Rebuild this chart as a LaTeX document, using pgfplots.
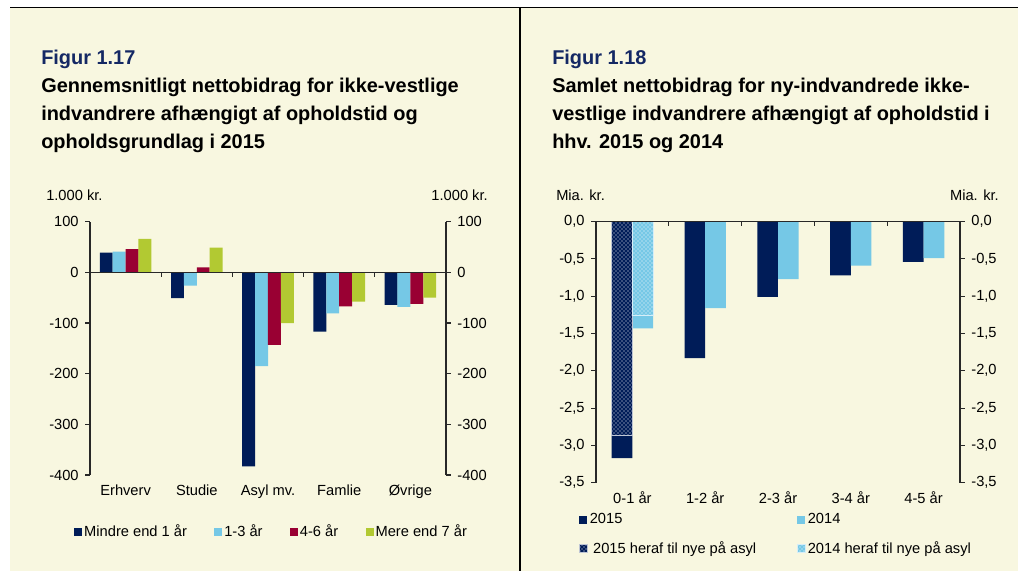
\documentclass[border=0pt]{standalone}
\usepackage{pgfplots}
\pgfplotsset{compat=1.18}
\usetikzlibrary{patterns}
\usepackage{fontspec}
\setmainfont{Liberation Sans}
\definecolor{bg}{RGB}{248,247,224}
\definecolor{navy}{RGB}{0,28,88}
\definecolor{lblue}{RGB}{117,200,230}
\definecolor{wine}{RGB}{153,0,51}
\definecolor{lime}{RGB}{178,201,50}
\definecolor{figblue}{RGB}{20,40,100}
\definecolor{axc}{RGB}{40,40,40}
\newcommand\tfont{\fontsize{14.95pt}{17pt}\selectfont\bfseries}
\newcommand\lfont{\fontsize{11pt}{13pt}\selectfont}
\tikzset{btick/.style={axc, line width=0.8pt}}
\pgfplotsset{
  sq legend/.style={legend image code/.code={\fill[##1] (0pt,-3pt) rectangle (6pt,3pt);}},
  panel/.style={
    scale only axis, anchor=south west, clip=false,
    xmin=-0.5, xmax=4.5,
    separate axis lines,
    x axis line style={draw=none},
    y axis line style={draw=axc, line width=0.8pt},
    xtick={0,...,4}, x tick style={draw=none},
    y tick style={axc, line width=0.8pt},
    tick align=outside, major tick length=3.5pt,
    tick label style={font=\lfont},
    yticklabel style={xshift=-1.5pt},
    ytick pos=both,
    legend cell align=left,
  },
  rpanel/.style={
    scale only axis, anchor=south west,
    xmin=-0.5, xmax=4.5, hide x axis,
    y axis line style={draw=none}, y tick style={draw=none},
    yticklabel pos=right, tick label style={font=\lfont},
    yticklabel style={anchor=west, xshift=5pt},
  },
}
\begin{document}
\begin{tikzpicture}
\begin{scope}[x=0.75pt,y=-0.75pt]
\useasboundingbox (0,0) rectangle (1018,571);
\fill[white] (0,0) rectangle (1018,571);
\fill[bg] (10,8) rectangle (1018,571);
\draw[black, line width=1.1pt] (10,7.5) -- (1018,7.5);
\draw[black, line width=1pt] (520,7.5) -- (520,571);
\node[anchor=base west, inner sep=0, text=figblue, font=\tfont] at (41,64) {Figur 1.17};
\node[anchor=base west, inner sep=0, font=\tfont] at (41,92.7) {Gennemsnitligt nettobidrag for ikke-vestlige};
\node[anchor=base west, inner sep=0, font=\tfont] at (41,120.4) {indvandrere afhængigt af opholdstid og};
\node[anchor=base west, inner sep=0, font=\tfont] at (41,148) {opholdsgrundlag i 2015};
\node[anchor=base west, inner sep=0, text=figblue, font=\tfont] at (552,64) {Figur 1.18};
\node[anchor=base west, inner sep=0, font=\tfont] at (552,92.7) {Samlet nettobidrag for ny-indvandrede ikke-};
\node[anchor=base west, inner sep=0, font=\tfont] at (552,120.4) {vestlige indvandrere afhængigt af opholdstid i};
\node[anchor=base west, inner sep=0, font=\tfont] at (552,148) {hhv. 2015 og 2014};
\node[anchor=base west, inner sep=0, font=\lfont] at (46,200) {1.000 kr.};
\node[anchor=base east, inner sep=0, font=\lfont] at (488,200) {1.000 kr.};
\node[anchor=base west, inner sep=0, font=\lfont] at (556,200) {Mia. kr.};
\node[anchor=base east, inner sep=0, font=\lfont] at (999,200) {Mia. kr.};
\end{scope}

% ---------- left panel ----------
\begin{axis}[panel,
  at={(67.5pt,-356.25pt)}, width=267pt, height=190pt,
  ymin=-400, ymax=100,
  ytick={-400,-300,-200,-100,0,100},
  yticklabels={-400,-300,-200,-100,0,100},
  xticklabels={Erhverv,Studie,Asyl mv.,Famlie,Øvrige},
  bar width=9.7pt,
  legend columns=4,
  legend style={at={(axis description cs:-0.045,-0.224)}, anchor=west,
    draw=none, fill=none, inner sep=0pt, font=\lfont,
    nodes={inner sep=1.5pt},
    /tikz/every even column/.append style={column sep=19pt}},
]
\addplot[ybar, fill=navy, draw=none, bar shift=-14.5pt, sq legend] coordinates {(0,39) (1,-51) (2,-383) (3,-117) (4,-64)};
\addplot[ybar, fill=lblue, draw=none, bar shift=-4.84pt, sq legend] coordinates {(0,41) (1,-26) (2,-185) (3,-81) (4,-68)};
\addplot[ybar, fill=wine, draw=none, bar shift=4.84pt, sq legend] coordinates {(0,46) (1,10) (2,-143) (3,-67) (4,-62)};
\addplot[ybar, fill=lime, draw=none, bar shift=14.5pt, sq legend] coordinates {(0,66) (1,49) (2,-100) (3,-58) (4,-50)};
\legend{Mindre end 1 år,1-3 år,4-6 år,Mere end 7 år}
\draw[btick] (axis cs:-0.5,0) -- (axis cs:4.5,0);
\draw[btick] (axis cs:0.5,0) -- ([yshift=-3.5pt]axis cs:0.5,0);
\draw[btick] (axis cs:1.5,0) -- ([yshift=-3.5pt]axis cs:1.5,0);
\draw[btick] (axis cs:2.5,0) -- ([yshift=-3.5pt]axis cs:2.5,0);
\draw[btick] (axis cs:3.5,0) -- ([yshift=-3.5pt]axis cs:3.5,0);
\end{axis}
\begin{axis}[rpanel,
  at={(67.5pt,-356.25pt)}, width=267pt, height=190pt,
  ymin=-400, ymax=100,
  ytick={-400,-300,-200,-100,0,100},
  yticklabels={-400,-300,-200,-100,0,100},
]
\end{axis}

% ---------- right panel ----------
\begin{axis}[panel,
  at={(447pt,-362pt)}, width=273pt, height=195.75pt,
  ymin=-3.5, ymax=0,
  ytick={-3.5,-3,-2.5,-2,-1.5,-1,-0.5,0},
  yticklabels={{-3,5},{-3,0},{-2,5},{-2,0},{-1,5},{-1,0},{-0,5},{0,0}},
  xticklabels={0-1 år,1-2 år,2-3 år,3-4 år,4-5 år},
  bar width=15.5pt,
  legend columns=2,
  legend style={at={(axis description cs:-0.047,-0.11)}, anchor=north west,
    draw=none, fill=none, inner sep=0pt, font=\lfont,
    nodes={inner sep=1.5pt}, row sep=9pt,
    /tikz/every even column/.append style={column sep=0pt}},
]
\addplot[ybar, fill=navy, draw=none, bar shift=-7.76pt, sq legend] coordinates {(0,-3.17) (1,-1.83) (2,-1.01) (3,-0.72) (4,-0.54)};
\addplot[ybar, fill=lblue, draw=none, bar shift=7.76pt, sq legend] coordinates {(0,-1.43) (1,-1.16) (2,-0.77) (3,-0.59) (4,-0.49)};
\addplot[ybar, fill=navy, draw=white!75!navy, line width=0.5pt, postaction={pattern=crosshatch dots, pattern color=white}, bar shift=-7.76pt, sq legend] coordinates {(0,-2.86)};
\addplot[ybar, fill=lblue, draw=white!70!lblue, line width=0.5pt, postaction={pattern=crosshatch dots, pattern color=white}, bar shift=7.76pt, sq legend] coordinates {(0,-1.26)};
\addlegendentry{\makebox[154pt][l]{2015}}
\addlegendentry{2014}
\addlegendentry{\makebox[154pt][l]{\hspace{2.5pt}2015 heraf til nye på asyl}}
\addlegendentry{2014 heraf til nye på asyl}
\draw[btick] (axis cs:-0.5,0) -- (axis cs:4.5,0);
\draw[btick] (axis cs:0.5,0) -- ([yshift=-3.5pt]axis cs:0.5,0);
\draw[btick] (axis cs:1.5,0) -- ([yshift=-3.5pt]axis cs:1.5,0);
\draw[btick] (axis cs:2.5,0) -- ([yshift=-3.5pt]axis cs:2.5,0);
\draw[btick] (axis cs:3.5,0) -- ([yshift=-3.5pt]axis cs:3.5,0);
\end{axis}
\begin{axis}[rpanel,
  at={(447pt,-362pt)}, width=273pt, height=195.75pt,
  ymin=-3.5, ymax=0,
  ytick={-3.5,-3,-2.5,-2,-1.5,-1,-0.5,0},
  yticklabels={{-3,5},{-3,0},{-2,5},{-2,0},{-1,5},{-1,0},{-0,5},{0,0}},
]
\end{axis}
\end{tikzpicture}
\end{document}
